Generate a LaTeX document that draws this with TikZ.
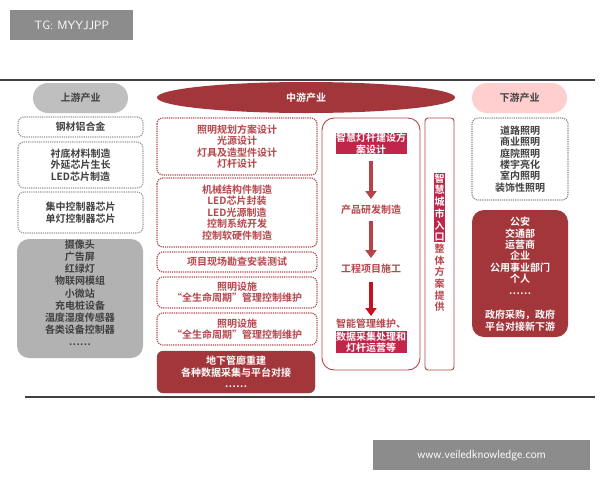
\documentclass[tikz,border=0pt]{standalone}
\usepackage{fontspec}
\usetikzlibrary{arrows.meta,calc}
\newfontfamily\cjk{Noto Sans CJK SC}[BoldFont={Noto Sans CJK SC Bold}]
\begin{document}
\begin{tikzpicture}[x=1pt,y=-1pt,
  every node/.style={font=\cjk\bfseries\fontsize{10}{11.4}\selectfont,inner sep=0pt,align=center},
  dotbox/.style={draw=#1,densely dotted,line width=1.2pt,rounded corners=6pt},
  gtext/.style={text=black!75},
  hl/.style={fill=hlc,text=white,inner sep=0.5pt},
  bigarrow/.style={-{Triangle[width=11pt,length=8pt]},line width=4pt,#1}]
\definecolor{dr}{HTML}{A3363B}
\definecolor{tr}{HTML}{B5464C}
\definecolor{hlc}{HTML}{C0254A}
\definecolor{ar}{HTML}{B8424A}
\definecolor{ar2}{HTML}{C8101E}
\useasboundingbox (0,0) rectangle (600,480);
\fill[white] (0,0) rectangle (600,480);
% watermark boxes
\node[fill=black!45,text=white,font=\sffamily\fontsize{12}{14}\selectfont,minimum width=123,minimum height=30,anchor=north west] (tg) at (10,10) {TG: MYYJJPP};
\node[fill=black!45,text=white,font=\sffamily\fontsize{12}{14}\selectfont,minimum width=217,minimum height=30,anchor=north west] (wm) at (373,440) {www.veiledknowledge.com};
% frame lines
\coordinate (l1) at (0,80); \coordinate (l2) at (595,80);
\coordinate (l3) at (25,397); \coordinate (l4) at (595,397);
\draw[black!75,line width=1.2pt] (l1) -- (l2);
\draw[black!75,line width=1.2pt] (l3) -- (l4);
% upstream
\fill[black!25,rounded corners=15pt] (33,83) rectangle (128,113);
\node[gtext] (up) at (80.5,98) {上游产业};
\draw[dotbox=black!40] (18,117) rectangle (143,137);
\node[gtext] (u1) at (80.5,127) {钢材铝合金};
\draw[dotbox=black!40] (18,142) rectangle (143,188);
\node[gtext] (u2) at (80.5,165) {衬底材料制造\\外延芯片生长\\LED芯片制造};
\draw[dotbox=black!40] (18,192) rectangle (143,233);
\node[gtext] (u3) at (80.5,212.5) {集中控制器芯片\\单灯控制器芯片};
\fill[black!30,rounded corners=12pt] (17,239) rectangle (143,358);
\node[gtext,font=\cjk\bfseries\fontsize{10}{12.2}\selectfont] (u4) at (80,293) {摄像头\\广告屏\\红绿灯\\物联网模组\\小微站\\充电桩设备\\温度湿度传感器\\各类设备控制器\\……};
% midstream
\fill[dr] (306,97.5) ellipse[x radius=149,y radius=15.5];
\node[text=white] (mid) at (306,98) {中游产业};
\draw[dotbox=tr] (157,118) rectangle (317,175);
\node[text=tr] (m1) at (237,146.5) {照明规划方案设计\\光源设计\\灯具及造型件设计\\灯杆设计};
\draw[dotbox=tr] (157,178) rectangle (317,247);
\node[text=tr] (m2) at (237,212.5) {机械结构件制造\\LED芯片封装\\LED光源制造\\控制系统开发\\控制软硬件制造};
\draw[dotbox=tr] (157,252) rectangle (317,272);
\node[text=tr] (m3) at (237,262) {项目现场勘查安装测试};
\draw[dotbox=tr] (157,277) rectangle (317,308);
\node[text=tr] (m4) at (237,292.5) {照明设施\\“全生命周期”管理控制维护};
\draw[dotbox=tr] (157,313) rectangle (317,345);
\node[text=tr] (m5) at (237,329) {照明设施\\“全生命周期”管理控制维护};
\fill[dr,rounded corners=6pt] (157,351) rectangle (315,393);
\draw[black!60,rounded corners=6pt] (157,351) rectangle (315,393);
\node[text=white] (m6) at (236,372) {地下管廊重建\\各种数据采集与平台对接\\……};
% process column
\draw[tr,line width=0.9pt,rounded corners=12pt] (322,118) rectangle (420,370);
\node[hl] (p1) at (371,143.5) {智慧灯杆建设方\\案设计};
\node[text=tr] (p2) at (371,210) {产品研发制造};
\node[text=tr] (p3) at (371,269) {工程项目施工};
\node[text=tr,anchor=north] (p4a) at (371,319) {智能管理维护、};
\node[hl,anchor=north] (p4) at (371,331) {数据采集处理和\\灯杆运营等};
\draw[bigarrow=ar] ($(p1.south)+(0,6)$) -- ($(p2.north)-(0,6)$);
\draw[bigarrow=ar] ($(p2.south)+(0,6)$) -- ($(p3.north)-(0,6)$);
\draw[bigarrow=ar2] ($(p3.south)+(0,8)$) -- ($(p4a.north)-(0,3)$);
% vertical box
\draw[tr,line width=0.9pt,rounded corners=3pt] (425,118) rectangle (454,370);
\node[hl,font=\cjk\bfseries\fontsize{10}{11.7}\selectfont,anchor=north] (v1) at (439.5,173) {智\\慧\\城\\市\\入\\口};
\node[text=tr,font=\cjk\bfseries\fontsize{10}{11.7}\selectfont,anchor=north] (v2) at ($(v1.south)+(0,1.5)$) {整\\体\\方\\案\\提\\供};
% downstream
\fill[pink!70!red!40,rounded corners=15pt] (472,83) rectangle (567,113);
\node[gtext] (down) at (519.5,98) {下游产业};
\draw[dotbox=black!45] (472,118) rectangle (568,200);
\node[gtext] (d1) at (520,159) {道路照明\\商业照明\\庭院照明\\楼宇亮化\\室内照明\\装饰性照明};
\fill[dr,rounded corners=12pt] (472,210) rectangle (568,337);
\node[text=white,anchor=north] (d2) at (520,217) {公安\\交通部\\运营商\\企业\\公用事业部门\\个人\\……};
\node[text=white,anchor=north] (d3) at (520,310) {政府采购，政府\\平台对接新下游};
\end{tikzpicture}
\end{document}
